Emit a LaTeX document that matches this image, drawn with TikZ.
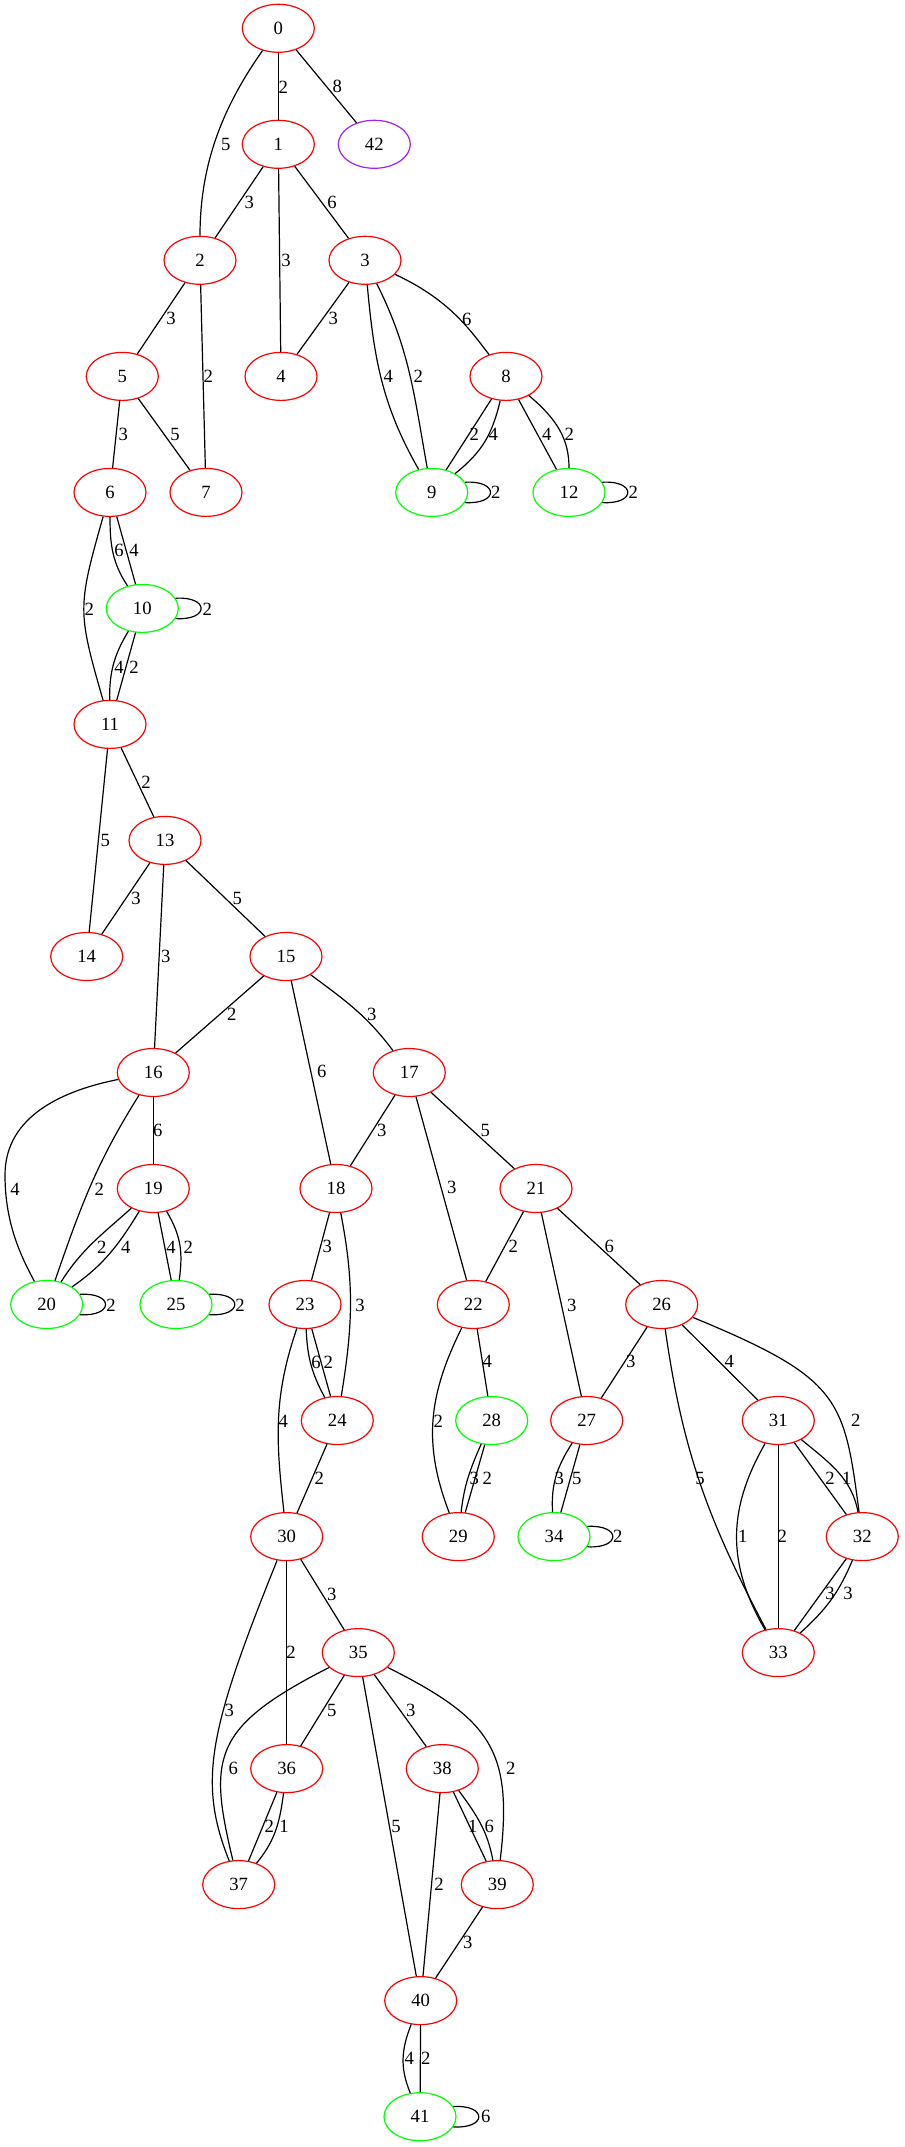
\documentclass[tikz,border=0pt]{standalone}
\usepackage{fontspec}
\setmainfont{Liberation Serif}
\usetikzlibrary{shapes.geometric}
\definecolor{vred}{RGB}{255,0,0}
\definecolor{vgreen}{RGB}{0,255,0}
\definecolor{vpurple}{RGB}{160,32,240}
\begin{document}
\begin{tikzpicture}[x=0.75pt,y=-0.75pt,
  vtx/.style={ellipse, draw=vred, line width=0.9pt, minimum width=54pt, minimum height=36pt,
              inner sep=0pt, font=\fontsize{14}{16}\selectfont},
  okvtx/.style={vtx, draw=vgreen},
  oddvtx/.style={vtx, draw=vpurple},
  wt/.style={inner sep=0pt, font=\fontsize{14}{16}\selectfont},
  conn/.style={draw=black, line width=0.9pt}]
\useasboundingbox (0,0) rectangle (905,2147);

% vertices, one row per rank
\node[vtx] (n0) at (278.3,28.3) {0};
\node[vtx] (n1) at (278.3,144.3) {1};
\node[oddvtx] (n42) at (374.3,144.3) {42};
\node[vtx] (n2) at (200,260.3) {2};
\node[vtx] (n3) at (365,260.3) {3};
\node[vtx] (n5) at (122.3,376.4) {5};
\node[vtx] (n4) at (281,376.4) {4};
\node[vtx] (n8) at (506,376.4) {8};
\node[vtx] (n6) at (110,492.4) {6};
\node[vtx] (n7) at (206,492.4) {7};
\node[okvtx] (n9) at (431.7,492.4) {9};
\node[okvtx] (n12) at (569,492.4) {12};
\node[okvtx] (n10) at (142.3,608.4) {10};
\node[vtx] (n11) at (110,724.4) {11};
\node[vtx] (n13) at (165,840.4) {13};
\node[vtx] (n14) at (86.7,956.5) {14};
\node[vtx] (n15) at (286,956.5) {15};
\node[vtx] (n16) at (153.3,1072.5) {16};
\node[vtx] (n17) at (409.3,1072.5) {17};
\node[vtx] (n19) at (153.3,1188.5) {19};
\node[vtx] (n18) at (336,1188.5) {18};
\node[vtx] (n21) at (536,1188.5) {21};
\node[okvtx] (n20) at (46.7,1304.5) {20};
\node[okvtx] (n25) at (176,1304.5) {25};
\node[vtx] (n23) at (305,1304.5) {23};
\node[vtx] (n22) at (473.3,1304.5) {22};
\node[vtx] (n26) at (661.7,1304.5) {26};
\node[vtx] (n24) at (337.3,1420.5) {24};
\node[okvtx] (n28) at (491.7,1420.5) {28};
\node[vtx] (n27) at (586.7,1420.5) {27};
\node[vtx] (n31) at (778.3,1420.5) {31};
\node[vtx] (n30) at (286.7,1536.6) {30};
\node[vtx] (n29) at (458.3,1536.6) {29};
\node[okvtx] (n34) at (554,1536.6) {34};
\node[vtx] (n32) at (862.3,1536.6) {32};
\node[vtx] (n35) at (358.3,1652.6) {35};
\node[vtx] (n33) at (778.3,1652.6) {33};
\node[vtx] (n36) at (286.7,1768.6) {36};
\node[vtx] (n38) at (442.3,1768.6) {38};
\node[vtx] (n37) at (238.7,1884.6) {37};
\node[vtx] (n39) at (497.3,1884.6) {39};
\node[vtx] (n40) at (420.7,2000.6) {40};
\node[okvtx] (n41) at (420,2116.7) {41};

% connections
\draw[conn] (n0) -- (n1);
\draw[conn] (n0) .. controls (222,108) and (200,165) .. (n2);
\draw[conn] (n0) -- (n42);
\draw[conn] (n1) -- (n2);
\draw[conn] (n1) -- (n4);
\draw[conn] (n1) -- (n3);
\draw[conn] (n2) -- (n5);
\draw[conn] (n2) -- (n7);
\draw[conn] (n3) -- (n4);
\draw[conn] (n3) .. controls (374,359) and (382,405) .. (n9);
\draw[conn] (n3) .. controls (410,350) and (414,395) .. (n9);
\draw[conn] (n3) .. controls (450,300) and (470,330) .. (n8);
\draw[conn] (n8) -- (n9);
\draw[conn] (n8) .. controls (492,435) and (482,452) .. (n9);
\draw[conn] (n8) -- (n12);
\draw[conn] (n8) .. controls (558,420) and (569,440) .. (n12);
\draw[conn] (n9.17) .. controls +(34,-2) and +(34,2) .. (n9.-17);
\draw[conn] (n12.17) .. controls +(34,-2) and +(34,2) .. (n12.-17);
\draw[conn] (n5) -- (n6);
\draw[conn] (n5) -- (n7);
\draw[conn] (n6) .. controls (110,545) and (112.3,562.7) .. (n10);
\draw[conn] (n6) -- (n10);
\draw[conn] (n6) .. controls (77.4,607.5) and (77.4,610.9) .. (n11);
\draw[conn] (n10.17) .. controls +(34,-2) and +(34,2) .. (n10.-17);
\draw[conn] (n10) .. controls (113.3,655.9) and (109.3,673.7) .. (n11);
\draw[conn] (n10) -- (n11);
\draw[conn] (n11) -- (n13);
\draw[conn] (n11) -- (n14);
\draw[conn] (n13) -- (n14);
\draw[conn] (n13) -- (n15);
\draw[conn] (n13) -- (n16);
\draw[conn] (n15) -- (n16);
\draw[conn] (n15) -- (n18);
\draw[conn] (n15) .. controls (346.5,1001.3) and (367,1015.9) .. (n17);
\draw[conn] (n16) -- (n19);
\draw[conn] (n16) .. controls (65,1090) and (5,1115) .. (5,1175)
                  .. controls (5,1225) and (22,1258) .. (n20);
\draw[conn] (n16) .. controls (95.9,1163.8) and (80.7,1206.5) .. (n20);
\draw[conn] (n19) .. controls (100.7,1235.6) and (81.8,1249.2) .. (n20);
\draw[conn] (n19) .. controls (118.4,1245.2) and (103.9,1264.7) .. (n20);
\draw[conn] (n19) -- (n25);
\draw[conn] (n19) .. controls (181.1,1236.1) and (183,1252) .. (n25);
\draw[conn] (n20.17) .. controls +(34,-2) and +(34,2) .. (n20.-17);
\draw[conn] (n25.17) .. controls +(34,-2) and +(34,2) .. (n25.-17);
\draw[conn] (n17) -- (n18);
\draw[conn] (n17) -- (n22);
\draw[conn] (n17) -- (n21);
\draw[conn] (n18) -- (n23);
\draw[conn] (n18) .. controls (354.6,1284.3) and (352.7,1326) .. (n24);
\draw[conn] (n21) -- (n22);
\draw[conn] (n21) -- (n27);
\draw[conn] (n21) -- (n26);
\draw[conn] (n23) .. controls (307.4,1356.7) and (311.3,1372.6) .. (n24);
\draw[conn] (n23) -- (n24);
\draw[conn] (n23) .. controls (273,1398) and (276,1441) .. (n30);
\draw[conn] (n24) -- (n30);
\draw[conn] (n22) -- (n28);
\draw[conn] (n22) .. controls (428,1396) and (423,1444) .. (n29);
\draw[conn] (n28) .. controls (469.5,1470.3) and (464.1,1486.1) .. (n29);
\draw[conn] (n28) -- (n29);
\draw[conn] (n26) -- (n27);
\draw[conn] (n26) -- (n31);
\draw[conn] (n26) .. controls (682.7,1451.8) and (707.8,1519.8) .. (n33);
\draw[conn] (n26) .. controls (840.5,1378.4) and (844.1,1398) .. (n32);
\draw[conn] (n27) .. controls (556.3,1467.7) and (551,1485.3) .. (n34);
\draw[conn] (n27) -- (n34);
\draw[conn] (n34.17) .. controls +(34,-2) and +(34,2) .. (n34.-17);
\draw[conn] (n31) .. controls (727,1510) and (727,1564) .. (n33);
\draw[conn] (n31) -- (n33);
\draw[conn] (n31) -- (n32);
\draw[conn] (n31) .. controls (829.3,1462.7) and (852,1478.3) .. (n32);
\draw[conn] (n32) -- (n33);
\draw[conn] (n32) .. controls (839.1,1592) and (826.8,1609) .. (n33);
\draw[conn] (n30) .. controls (208.4,1730.8) and (197.7,1781.9) .. (n37);
\draw[conn] (n30) -- (n36);
\draw[conn] (n30) -- (n35);
\draw[conn] (n35) .. controls (211.6,1727.3) and (208.2,1757.5) .. (n37);
\draw[conn] (n35) -- (n36);
\draw[conn] (n35) -- (n40);
\draw[conn] (n35) -- (n38);
\draw[conn] (n35) .. controls (490.6,1719.2) and (513.3,1749.7) .. (n39);
\draw[conn] (n36) -- (n37);
\draw[conn] (n36) .. controls (279.8,1822.1) and (275.3,1840.5) .. (n37);
\draw[conn] (n38) -- (n40);
\draw[conn] (n38) -- (n39);
\draw[conn] (n38) .. controls (477.4,1815.6) and (487.7,1832) .. (n39);
\draw[conn] (n39) -- (n40);
\draw[conn] (n40) .. controls (401,2050) and (400,2068) .. (n41);
\draw[conn] (n40) -- (n41);
\draw[conn] (n41.17) .. controls +(34,-2) and +(34,2) .. (n41.-17);

% weights
\foreach \px/\py/\t [count=\i] in {
  283.3/87.3/2, 337.3/86.7/8, 225.7/144/5, 249.3/202.3/3, 332/202.3/6, 286/260/3,
  466.7/319/6, 388.3/376.7/4, 418.3/376.7/2, 474.3/434.3/2, 493.3/434.3/4,
  546.7/434.3/4, 569.3/434.3/2, 495.7/492.7/2, 633.3/492.7/2, 333.3/318.7/3,
  171/318.3/3, 208.3/376.7/2, 123.3/434.3/3, 175/434.3/5,
  119/550.7/6, 134/550.7/4, 89.3/609/2, 207.3/609/2, 119/667.3/4, 134/667.3/2,
  146/782.3/2, 105.3/840/5, 136/898.7/3, 237.3/898.7/5, 165.7/956/3,
  231.7/1014.3/2, 371.7/1014.3/3, 321.7/1071.7/6,
  157.7/1130.7/6, 15/1189/4, 99.3/1189/2, 101.7/1247.3/2, 125.7/1247.3/4,
  171/1247.3/4, 188.3/1247.3/2, 111/1305/2, 240/1305/2,
  381.7/1130.7/3, 327.3/1246.7/3, 360/1305/3,
  485.3/1130/5, 451.7/1187.7/3, 513.3/1246.7/2, 609.3/1246.7/6, 571.7/1305/3,
  316/1362.7/6, 328.3/1362.7/2, 283.3/1421/4, 319.3/1478.3/2, 438.3/1421/2,
  487.3/1361.7/4, 630.7/1361.7/3, 729.3/1361.7/4, 855.7/1420.7/2,
  474.3/1478.3/3, 487.3/1478.3/2, 559.3/1478.3/3, 576.7/1478.3/5, 700/1478.3/5,
  830/1478.3/2, 846.7/1478.3/1, 617.7/1536/2, 742.7/1536/1, 782.3/1536/2,
  830/1593.3/3, 848/1593.3/3,
  331.7/1594.3/3, 291/1652.7/2, 229.3/1710/3, 331.7/1710/5, 410.7/1710/3,
  233.3/1768.3/6, 510.7/1768.3/2, 269.3/1826.7/2, 284/1826.7/1, 396/1826.7/5,
  472.7/1826.7/1, 489.3/1826.7/6, 439/1884.3/2,
  467.7/1942.3/3, 409.3/2058.3/4, 425.7/2058.3/2, 485.7/2116/6}
  \node[wt] (w\i) at (\px,\py) {\t};
\end{tikzpicture}
\end{document}
